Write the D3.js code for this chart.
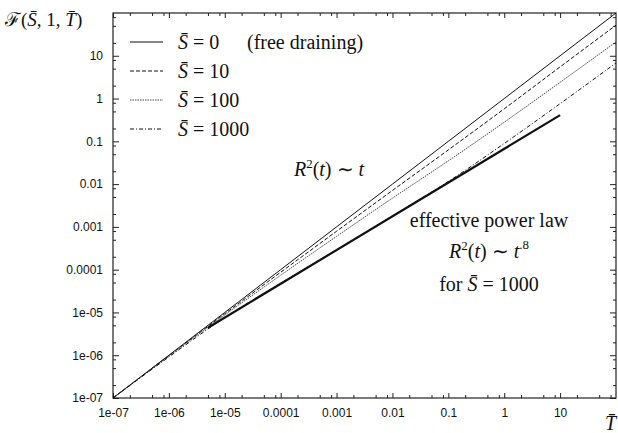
<!DOCTYPE html>
<html>
<head>
<meta charset="utf-8">
<script src="https://cdn.jsdelivr.net/npm/d3@7"></script>
<style>
  body { margin: 0; background: #fff; }
  svg { display: block; }
  .tick text { font-family: "Liberation Sans", Arial, sans-serif; font-size: 12px; fill: #111; }
  .math { font-family: "Liberation Serif", "Times New Roman", serif; fill: #111; }
</style>
</head>
<body>
<svg id="chart" width="618" height="433"></svg>
<script>
// values (log-log, both axes 1e-7 .. 1e2)
var T = [1e-7, 1e-6, 1e-5, 1e-4, 1e-3, 1e-2, 1e-1, 1, 10, 100]
var F_S0    = [1e-7, 1e-6, 1e-5, 1e-4, 1e-3, 1e-2, 1e-1, 1, 10, 100]
var F_S10   = [1e-7, 9.8e-7, 9.3e-6, 8.7e-5, 7.9e-4, 7.1e-3, 0.063, 0.575, 5.5, 52]
var F_S100  = [1e-7, 9.5e-7, 8.7e-6, 7.4e-5, 6.0e-4, 4.7e-3, 0.035, 0.28, 2.4, 21]
var F_S1000 = [1e-7, 9.1e-7, 7.6e-6, 4.8e-5, 2.9e-4, 1.8e-3, 0.0115, 0.089, 0.76, 6.8]

// effective power law R^2 ~ t^.8 (thick line), two ends
var fitT = [5e-6, 10]
var fitF = [4.4e-6, 0.41]

var legendValues = ['0', '10', '100', '1000']
var tickValues = [1e-7, 1e-6, 1e-5, 1e-4, 1e-3, 1e-2, 1e-1, 1, 10]
var tickLabels = ['1e-07', '1e-06', '1e-05', '0.0001', '0.001', '0.01', '0.1', '1', '10']

var svg = d3.select('#chart')
var m = { left: 113, right: 616, top: 13, bottom: 398 }

var x = d3.scaleLog().domain([1e-7, 1e2]).range([m.left, m.right])
var y = d3.scaleLog().domain([1e-7, 1e2]).range([m.bottom, m.top])

// minor ticks at 2, 5, 8 of every decade
var minor = []
d3.range(-7, 2).forEach(function (e) {
  [2, 5, 8].forEach(function (k) { minor.push(k * Math.pow(10, e)) })
})

function fmt(d) { return tickLabels[tickValues.indexOf(d)] }

function axis(gen, tx, ty, values, size, labels) {
  var g = svg.append('g').attr('transform', 'translate(' + tx + ',' + ty + ')')
    .call(gen.tickValues(values).tickSize(size).tickPadding(10)
      .tickFormat(labels ? fmt : function () { return '' }))
  g.select('.domain').remove()
  g.selectAll('.tick line').attr('stroke', '#222')
  return g
}

axis(d3.axisBottom(x), 0, m.bottom, tickValues, -5, true)
axis(d3.axisBottom(x), 0, m.bottom, minor, -3, false)
axis(d3.axisTop(x), 0, m.top, tickValues, -5, false)
axis(d3.axisTop(x), 0, m.top, minor, -3, false)
axis(d3.axisLeft(y), m.left, 0, tickValues, -6, true)
axis(d3.axisLeft(y), m.left, 0, minor, -3, false)
axis(d3.axisRight(y), m.right, 0, tickValues, -6, false)
axis(d3.axisRight(y), m.right, 0, minor, -3, false)

svg.append('rect')
  .attr('x', m.left).attr('y', m.top)
  .attr('width', m.right - m.left).attr('height', m.bottom - m.top)
  .attr('fill', 'none').attr('stroke', '#222').attr('stroke-width', 1.2)

var series = [
  { F: F_S0,    dash: null,      color: '#111' },
  { F: F_S10,   dash: '4,2',     color: '#111' },
  { F: F_S100,  dash: '1.5,1',   color: '#444' },
  { F: F_S1000, dash: '4,2,1,2', color: '#111' }
]

var line = d3.line()
  .x(function (d) { return x(d[0]) })
  .y(function (d) { return y(d[1]) })
  .curve(d3.curveMonotoneX)

var plot = svg.append('g')
plot.selectAll('path.curve').data(series).enter().append('path')
  .attr('class', 'curve')
  .attr('d', function (s) { return line(d3.zip(T, s.F)) })
  .attr('fill', 'none')
  .attr('stroke', function (s) { return s.color })
  .attr('stroke-width', 1)
  .attr('stroke-dasharray', function (s) { return s.dash })

plot.append('path')
  .attr('d', d3.line().x(function (d) { return x(d[0]) }).y(function (d) { return y(d[1]) })(d3.zip(fitT, fitF)))
  .attr('fill', 'none').attr('stroke', '#111').attr('stroke-width', 2.2)

// legend
var rowY = [42, 71, 100, 129]
var legend = svg.append('g')
legend.selectAll('line').data(series).enter().append('line')
  .attr('x1', 130).attr('x2', 163)
  .attr('y1', function (d, i) { return rowY[i] }).attr('y2', function (d, i) { return rowY[i] })
  .attr('stroke', function (s) { return s.color })
  .attr('stroke-width', 1)
  .attr('stroke-dasharray', function (s) { return s.dash })

var lt = legend.selectAll('text').data(legendValues).enter().append('text')
  .attr('class', 'math').attr('font-size', 20)
  .attr('x', 178).attr('y', function (d, i) { return rowY[i] + 7 })
lt.append('tspan').attr('font-style', 'italic').text('S\u0304')
lt.append('tspan').text(function (d) { return ' = ' + d })
lt.filter(function (d, i) { return i === 0 }).append('tspan')
  .attr('x', 247).text('(free draining)')

// axis titles
var yt = svg.append('text').attr('class', 'math').attr('font-size', 19)
  .attr('x', 5).attr('y', 26)
yt.append('tspan').text('\u2131(')
yt.append('tspan').attr('font-style', 'italic').text('S\u0304')
yt.append('tspan').text(', 1, ')
yt.append('tspan').attr('font-style', 'italic').text('T\u0304')
yt.append('tspan').text(')')

svg.append('text').attr('class', 'math').attr('font-size', 20)
  .attr('font-style', 'italic').attr('x', 605).attr('y', 430).text('T\u0304')

// annotations
function rlaw(g, cx, cy, power) {
  var t = g.append('text').attr('class', 'math').attr('font-size', 20)
    .attr('x', cx).attr('y', cy).attr('text-anchor', 'middle')
  t.append('tspan').attr('font-style', 'italic').text('R')
  t.append('tspan').attr('font-size', 13).attr('dy', -8).text('2')
  t.append('tspan').attr('dy', 8).text('(')
  t.append('tspan').attr('font-style', 'italic').text('t')
  t.append('tspan').text(') \u223C ')
  t.append('tspan').attr('font-style', 'italic').text('t')
  if (power) t.append('tspan').attr('font-size', 13).attr('dy', -9).text(power)
  return t
}
var notes = svg.append('g')
rlaw(notes, 329, 176, null)

notes.append('text').attr('class', 'math').attr('font-size', 20)
  .attr('x', 489).attr('y', 227).attr('text-anchor', 'middle')
  .text('effective power law')
rlaw(notes, 489, 258, '.8')
var ft = notes.append('text').attr('class', 'math').attr('font-size', 20)
  .attr('x', 489).attr('y', 291).attr('text-anchor', 'middle')
ft.append('tspan').text('for ')
ft.append('tspan').attr('font-style', 'italic').text('S\u0304')
ft.append('tspan').text(' = 1000')
</script>
</body>
</html>
